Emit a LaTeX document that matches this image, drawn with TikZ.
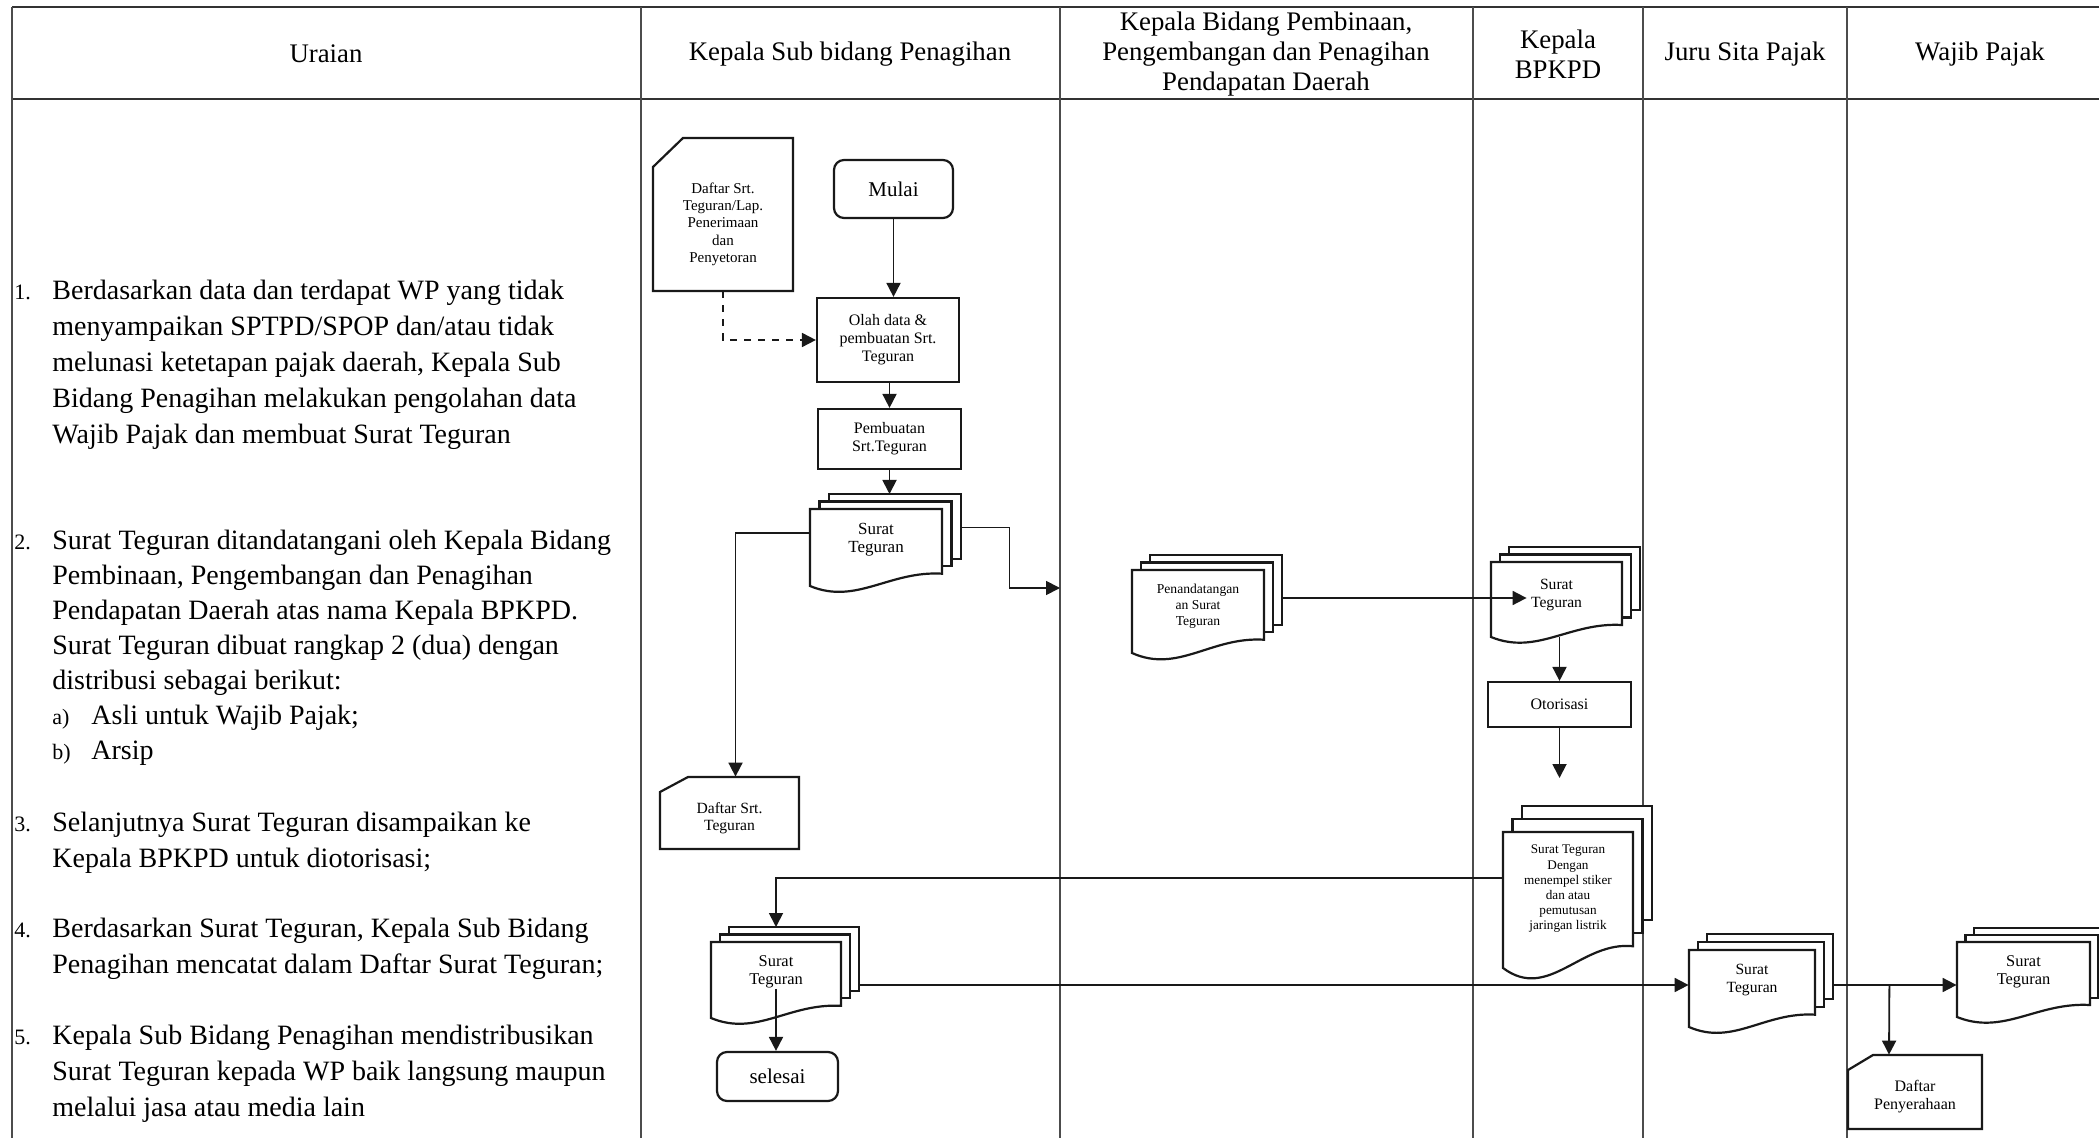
\documentclass[tikz,border=0pt]{standalone}
\usepackage{fontspec}
\setmainfont{Liberation Serif}
\usetikzlibrary{arrows.meta,calc}

\tikzset{
  lane/.style={line width=0.6pt, draw=black!70},
  docline/.style={line width=1.1pt, draw=black!90, fill=white},
  proc/.style={draw=black!90, line width=1.1pt, fill=white, inner sep=1pt, align=center},
  term/.style={proc, rounded corners=5pt},
  arr/.style={line width=0.9pt, draw=black!90, -{Triangle[length=7pt,width=7pt]}},
  dasharr/.style={arr, dash pattern=on 3.5pt off 3.5pt},
  hdr/.style={font=\fontsize{13.4}{15}\selectfont, align=center, inner sep=0},
  lbl/.style={inner sep=0, align=center},
  item/.style={anchor=north west, inner sep=0, font=\fontsize{14}{18}\selectfont},
}

\newcommand\inum[1]{\makebox[19pt][l]{\fontsize{11}{18}\selectfont #1}}
\newcommand\isub[1]{\makebox[19.5pt][l]{\fontsize{11}{18}\selectfont #1}}

% multi-document stack: name, x0, y0, x1, ybottom, dx, dy, text y, text
\newcommand\mdoc[9]{%
  \pgfmathsetmacro\mdH{#5-#3}%
  \pgfmathsetmacro\mdW{#4-#2}%
  \pgfmathsetmacro\mdR{#5-0.16*\mdH}%
  \pgfmathsetmacro\mdWp{\mdW*0.5}%
  \pgfmathsetmacro\mdHp{\mdH*0.5}%
  \draw[docline] ({#2+2*#6},{#3-2*#7}) rectangle ({#4+2*#6},{\mdR-2*#7});
  \draw[docline] ({#2+#6},{#3-#7}) rectangle ({#4+#6},{\mdR-#7});
  \draw[docline] (#2,#5) -- (#2,#3) -- (#4,#3) -- (#4,\mdR)
     .. controls ({#2+0.6*\mdW},{#5-0.2*\mdH}) and ({#2+0.35*\mdW},{#5+0.25*\mdH}) .. (#2,#5) -- cycle;
  \node[inner sep=0, minimum width=\mdWp pt, minimum height=\mdHp pt] (#1) at ({(#2+#4)/2},{(#3+#5)/2}) {};
  \coordinate (#1-top) at ({(#2+#4)/2},{#3-2*#7});
  \node[lbl, font=\mdocfont] (#1-t) at ({(#2+#4)/2},#8) {#9};
}

% card (cut corner): name, x0, y0, x1, y1, cutx, cuty, font, text
\newcommand\card[9]{%
  \draw[docline] ({#2+#6},#3) -- (#4,#3) -- (#4,#5) -- (#2,#5) -- (#2,{#3+#7}) -- cycle;
  \pgfmathsetmacro\mdWp{(#4-#2)*0.5}%
  \pgfmathsetmacro\mdHp{(#5-#3)*0.5}%
  \node[inner sep=0, minimum width=\mdWp pt, minimum height=\mdHp pt] (#1) at ({(#2+#4)/2},{(#3+#5)/2}) {};
  \node[lbl, font=#8] (#1-t) at ({(#2+#4)/2},{(#3+#5)/2+#7/3}) {#9};
}

\begin{document}
\begin{tikzpicture}[x=0.5pt,y=-0.5pt]
\useasboundingbox (0,0) rectangle (2099,1138);
\clip (0,0) rectangle (2099,1138);
\fill[white] (0,0) rectangle (2099,1138);

% table
\draw[line width=1pt, black!80] (12,7) -- (2099,7);
\draw[line width=1pt, black!80] (12,99) -- (2099,99);
\foreach \x in {12,641,1060,1473,1643,1847} \draw[lane] (\x,7) -- (\x,1138);

% header
\node[hdr] (h1) at (326,54) {Uraian};
\node[hdr] (h2) at (850,54) {Kepala Sub bidang Penagihan};
\node[hdr] (h3) at (1266,54) {Kepala Bidang Pembinaan,\\Pengembangan dan Penagihan\\Pendapatan Daerah};
\node[hdr] (h4) at (1558,54) {Kepala\\BPKPD};
\node[hdr] (h5) at (1745,54) {Juru Sita Pajak};
\node[hdr] (h6) at (1980,54) {Wajib Pajak};

% description column
\node[item] (t1) at (14,273.5) {\begin{tabular}{@{}l@{}l@{}}
\inum{1.} & Berdasarkan data dan terdapat WP yang tidak\\
 & menyampaikan SPTPD/SPOP dan/atau tidak\\
 & melunasi ketetapan pajak daerah, Kepala Sub\\
 & Bidang Penagihan melakukan pengolahan data\\
 & Wajib Pajak dan membuat Surat Teguran
\end{tabular}};
\node[item, font=\fontsize{14}{17.5}\selectfont] (t2) at (14,525) {\begin{tabular}{@{}l@{}l@{}}
\inum{2.} & Surat Teguran ditandatangani oleh Kepala Bidang\\
 & Pembinaan, Pengembangan dan Penagihan\\
 & Pendapatan Daerah atas nama Kepala BPKPD.\\
 & Surat Teguran dibuat rangkap 2 (dua) dengan\\
 & distribusi sebagai berikut:\\
 & \isub{a)}Asli untuk Wajib Pajak;\\
 & \isub{b)}Arsip
\end{tabular}};
\node[item] (t3) at (14,805.5) {\begin{tabular}{@{}l@{}l@{}}
\inum{3.} & Selanjutnya Surat Teguran disampaikan ke\\
 & Kepala BPKPD untuk diotorisasi;
\end{tabular}};
\node[item] (t4) at (14,911.5) {\begin{tabular}{@{}l@{}l@{}}
\inum{4.} & Berdasarkan Surat Teguran, Kepala Sub Bidang\\
 & Penagihan mencatat dalam Daftar Surat Teguran;
\end{tabular}};
\node[item] (t5) at (14,1018.5) {\begin{tabular}{@{}l@{}l@{}}
\inum{5.} & Kepala Sub Bidang Penagihan mendistribusikan\\
 & Surat Teguran kepada WP baik langsung maupun\\
 & melalui jasa atau media lain
\end{tabular}};

% Kepala Sub bidang Penagihan lane
\card{daftarA}{653}{138}{793}{291}{30}{29}{\fontsize{7.5}{8.6}\selectfont}{Daftar Srt.\\Teguran/Lap.\\Penerimaan\\dan\\Penyetoran}
\node[term, minimum width=59.5pt, minimum height=29pt, font=\fontsize{10.5}{12}\selectfont] (mulai) at (893.5,189) {Mulai};
\node[proc, minimum width=71pt, minimum height=42pt, font=\fontsize{8}{9}\selectfont] (olah) at (888,340) {Olah data \&\\pembuatan Srt.\\Teguran};
\node[proc, minimum width=71.5pt, minimum height=30pt, font=\fontsize{8}{9}\selectfont] (buat) at (889.5,439) {Pembuatan\\Srt.Teguran};
\def\mdocfont{\fontsize{8.5}{9.2}\selectfont}
\mdoc{sa1}{810}{509}{942}{586}{9.5}{7.5}{540}{Surat\\Teguran}
\card{daftarB}{660}{777}{799}{849}{28}{15}{\fontsize{7.8}{8.8}\selectfont}{Daftar Srt.\\Teguran}
\def\mdocfont{\fontsize{8.2}{9.2}\selectfont}
\mdoc{sa2}{711}{942}{841}{1018}{9}{7.5}{972}{Surat\\Teguran}
\node[term, minimum width=60.5pt, minimum height=24.5pt, font=\fontsize{10.5}{12}\selectfont] (selesai) at (777.5,1076.5) {selesai};

% Kepala Bidang lane
\def\mdocfont{\fontsize{6.8}{8}\selectfont}
\mdoc{pt}{1132}{570}{1264}{653}{9}{7.5}{606}{Penandatangan\\an Surat\\Teguran}

% Kepala BPKPD lane
\def\mdocfont{\fontsize{7.8}{9}\selectfont}
\mdoc{sb}{1491}{562}{1622}{637}{9}{7.5}{595}{Surat\\Teguran}
\node[proc, minimum width=71.5pt, minimum height=22.5pt, font=\fontsize{8}{9}\selectfont] (otor) at (1559.5,704.5) {Otorisasi};
\def\mdocfont{\fontsize{6.6}{7.6}\selectfont}
\mdoc{big}{1503}{832}{1633}{968}{9.5}{13}{889}{Surat Teguran\\Dengan\\menempel stiker\\dan atau\\pemutusan\\jaringan listrik}

% Juru Sita Pajak lane
\def\mdocfont{\fontsize{7.8}{9}\selectfont}
\mdoc{juru}{1689}{950}{1815}{1027}{9}{8}{980}{Surat\\Teguran}

% Wajib Pajak lane
\def\mdocfont{\fontsize{8.2}{9.2}\selectfont}
\mdoc{wajib}{1957}{942}{2090}{1017}{8.5}{7}{972}{Surat\\Teguran}
\card{dp}{1848}{1055}{1982}{1129}{25}{15}{\fontsize{8}{9}\selectfont}{Daftar\\Penyerahaan}

% connectors
\coordinate (lane3in) at (1060,588);
\coordinate (otorend) at (1561,778);
\draw[arr] (mulai.south) -- (mulai.south |- olah.north);
\draw[dasharr] (daftarA.south) |- (olah.west);
\draw[arr] (olah.south -| buat.north) -- (buat.north);
\draw[arr] (buat.south) -- (buat.south |- sa1-top);
\draw[arr] ($(sa1.west)+(0,-14.5)$) -| ($(daftarB.north)+(6,0)$);
\draw[arr] ($(sa1.east)+(18,-20)$) -- ++(49,0) |- (lane3in);
\draw[arr] ($(pt.east)+(18,-13.5)$) -- ($(sb.west)+(36,-1.5)$);
\draw[arr] (otor.north |- sb.south) -- (otor.north);
\draw[arr] (otor.south) -- (otor.south |- otorend);
\draw[arr] ($(big.west)+(0,-22)$) -| (sa2-top);
\draw[arr] (sa2-t.south) -- (sa2-t.south |- selesai.north);
\draw[arr] ($(sa2.east)+(18,5)$) -- ($(juru.west)+(0,-3.5)$);
\draw[arr] ($(juru.east)+(17,-3.5)$) -- ($(wajib.west)+(0,5.5)$);
\draw[arr] ($(juru.east)+(74,-3.5)$) -- ($(dp.north)+(-26,0)$);
\end{tikzpicture}
\end{document}
